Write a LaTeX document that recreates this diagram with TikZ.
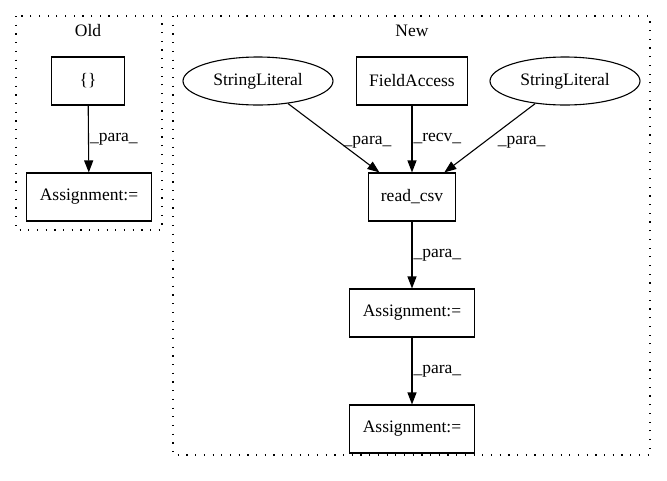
\documentclass[tikz,border=0pt]{standalone}
\usepackage{fontspec}
\setmainfont{Liberation Serif}
\usetikzlibrary{arrows.meta}
\usetikzlibrary{shapes.geometric}

\begin{document}
\begin{tikzpicture}[x=1pt, y=-1pt, font=\fontsize{17.5}{20}\selectfont, line width=1.1pt,
  box/.style={draw, rectangle, minimum height=48pt, inner sep=0pt},
  lit/.style={draw, ellipse, minimum width=150pt, minimum height=48pt, inner sep=0pt},
  flow/.style={-{Triangle[length=12pt, width=9pt]}},
  lbl/.style={anchor=west, inner sep=1pt},
  cluster/.style={line width=1.1pt, dash pattern=on 1.2pt off 7.5pt}]
\useasboundingbox (0, 0) rectangle (667, 480);
% Old
\draw[cluster] (16, 16) rectangle (162, 230);
\node (oldtitle) at (88, 31) {Old};
\node[box, minimum width=73pt] (oldset) at (88, 81) {\{\}};
\node[box, minimum width=125pt] (oldassign) at (89, 197) {Assignment:=};
\draw[flow] (oldset) -- (oldassign) node[lbl, midway] {\_para\_};
% New
\draw[cluster] (173, 16) rectangle (650, 455);
\node (newtitle) at (412, 31) {New};
\node[lit] (strleft) at (258, 81) {StringLiteral};
\node[box, minimum width=111pt] (field) at (412, 81) {FieldAccess};
\node[lit] (strright) at (565, 81) {StringLiteral};
\node[box, minimum width=87pt] (readcsv) at (412, 197) {read\_csv};
\node[box, minimum width=125pt] (assignmid) at (412, 313) {Assignment:=};
\node[box, minimum width=125pt] (assignlow) at (412, 429) {Assignment:=};
\draw[flow] (strleft) -- (readcsv) node[lbl, pos=0.56, xshift=3pt] {\_para\_};
\draw[flow] (field) -- (readcsv) node[lbl, midway] {\_recv\_};
\draw[flow] (strright) -- (readcsv) node[lbl, pos=0.56, xshift=12pt] {\_para\_};
\draw[flow] (readcsv) -- (assignmid) node[lbl, midway] {\_para\_};
\draw[flow] (assignmid) -- (assignlow) node[lbl, midway] {\_para\_};
\end{tikzpicture}
\end{document}
